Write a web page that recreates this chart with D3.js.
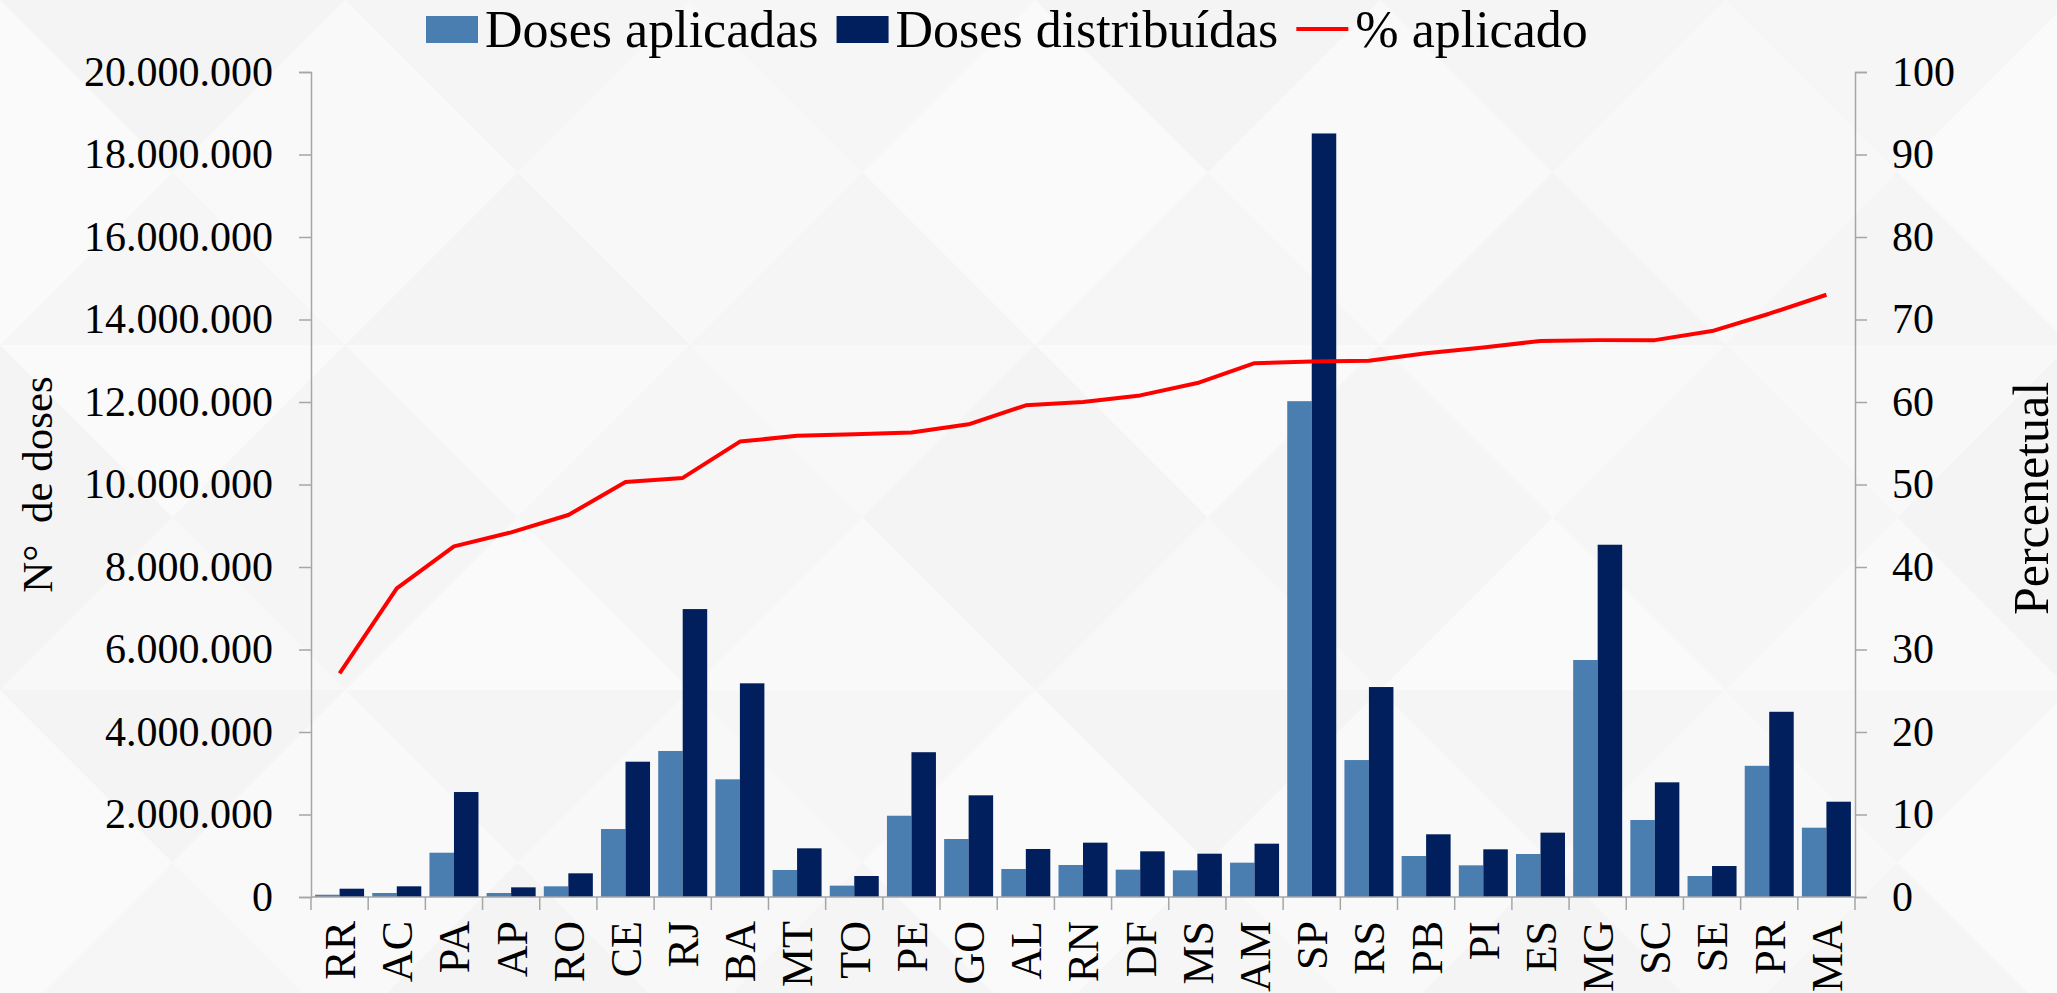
<!DOCTYPE html>
<html>
<head>
<meta charset="utf-8">
<script src="https://cdn.jsdelivr.net/npm/d3@7"></script>
<style>
  body { margin: 0; background: #f7f7f7; overflow: hidden; }
  text { font-family: "Liberation Serif", "Times New Roman", serif; fill: #000; }
  .axis path, .axis line { stroke: #a6a6a6; stroke-width: 1.5; }
</style>
</head>
<body>
<script>
// states, ordered by % applied
var estados = ['RR','AC','PA','AP','RO','CE','RJ','BA','MT','TO','PE','GO','AL','RN',
               'DF','MS','AM','SP','RS','PB','PI','ES','MG','SC','SE','PR','MA'];

var dosesAplicadas = [55000, 97000, 1074000, 97000, 259000, 1648000, 3540000, 2853000, 655000,
                      275000, 1970000, 1406000, 679000, 776000, 663000, 646000, 832000, 12020000,
                      3320000, 994000, 768000, 1042000, 5745000, 1867000, 509000, 3180000, 1680000];

var dosesDistribuidas = [201000, 259000, 2545000, 234000, 574000, 3280000, 6980000, 5180000, 1180000,
                         509000, 3510000, 2465000, 1164000, 1317000, 1107000, 1050000, 1293000, 18510000,
                         5090000, 1520000, 1156000, 1560000, 8540000, 2780000, 751000, 4490000, 2310000];

var percAplicado = [27.1, 37.4, 42.5, 44.2, 46.3, 50.3, 50.8, 55.2, 55.9, 56.1, 56.3, 57.3, 59.6, 60.0,
                    60.8, 62.3, 64.7, 64.9, 65.0, 65.9, 66.6, 67.4, 67.5, 67.5, 68.6, 70.7, 73.0];

var leftTicks = [0, 2000000, 4000000, 6000000, 8000000, 10000000, 12000000, 14000000, 16000000, 18000000, 20000000];
var rightTicks = [0, 10, 20, 30, 40, 50, 60, 70, 80, 90, 100];

var W = 2057, H = 993;
var plot = {left: 311, right: 1855, top: 72, bottom: 897};

var ptBR = d3.formatLocale({decimal: ",", thousands: ".", grouping: [3], currency: ["R$", ""]});
var fmt = ptBR.format(",d");

var svg = d3.select("body").append("svg")
    .attr("width", W)
    .attr("height", H);

// faint geometric background
var bg = svg.append("g");
bg.append("rect").attr("width", W).attr("height", H).attr("fill", "#f7f7f7");
var tile = 345;
var shades = ["#f4f4f4", "#f9f9f9", "#f6f6f6", "#fafafa", "#f5f5f5", "#f8f8f8"];
for (var i = 0; i * tile < W; i++) {
  for (var j = 0; j * tile < H; j++) {
    var x0 = i * tile, y0 = j * tile, cx = x0 + tile / 2, cy = y0 + tile / 2;
    var tris = [
      [[x0, y0], [x0 + tile, y0], [cx, cy]],
      [[x0 + tile, y0], [x0 + tile, y0 + tile], [cx, cy]],
      [[x0 + tile, y0 + tile], [x0, y0 + tile], [cx, cy]],
      [[x0, y0 + tile], [x0, y0], [cx, cy]]
    ];
    tris.forEach(function(t, k) {
      bg.append("polygon")
        .attr("points", t.map(function(p) { return p.join(","); }).join(" "))
        .attr("fill", shades[(i * 4 + j * 3 + k) % shades.length]);
    });
  }
}

var x0 = d3.scaleBand().domain(estados).range([plot.left, plot.right]).paddingInner(0).paddingOuter(0);
var x1 = d3.scaleBand().domain(["apl", "dist"]).range([0, x0.bandwidth()]).paddingInner(0).paddingOuter(0.167);
var y = d3.scaleLinear().domain([0, 20000000]).range([plot.bottom, plot.top]);
var y2 = d3.scaleLinear().domain([0, 100]).range([plot.bottom, plot.top]);

var g = svg.append("g");

// bars
g.selectAll(".apl")
  .data(estados)
  .enter().append("rect")
  .attr("class", "apl")
  .attr("x", function(d) { return x0(d) + x1("apl"); })
  .attr("y", function(d, i) { return y(dosesAplicadas[i]); })
  .attr("width", x1.bandwidth())
  .attr("height", function(d, i) { return y(0) - y(dosesAplicadas[i]); })
  .attr("fill", "#4a7eb0");

g.selectAll(".dist")
  .data(estados)
  .enter().append("rect")
  .attr("class", "dist")
  .attr("x", function(d) { return x0(d) + x1("dist"); })
  .attr("y", function(d, i) { return y(dosesDistribuidas[i]); })
  .attr("width", x1.bandwidth())
  .attr("height", function(d, i) { return y(0) - y(dosesDistribuidas[i]); })
  .attr("fill", "#001f5c");

// left axis
var yAxis = svg.append("g")
  .attr("class", "axis")
  .attr("transform", "translate(" + plot.left + ",0)")
  .call(d3.axisLeft(y).tickValues(leftTicks).tickFormat(fmt).tickSize(12).tickPadding(26));
yAxis.selectAll("text").style("font-size", "42px");

// right axis
var y2Axis = svg.append("g")
  .attr("class", "axis")
  .attr("transform", "translate(" + plot.right + ",0)")
  .call(d3.axisRight(y2).tickValues(rightTicks).tickSize(12).tickPadding(25));
y2Axis.selectAll("text").style("font-size", "42px");

// x axis: ticks between categories
var xAxis = svg.append("g").attr("class", "axis");
xAxis.append("line")
  .attr("x1", plot.left).attr("x2", plot.right)
  .attr("y1", plot.bottom).attr("y2", plot.bottom);
var bounds = estados.map(function(d) { return x0(d); }).concat([plot.right]);
xAxis.selectAll(".xt")
  .data(bounds)
  .enter().append("line")
  .attr("class", "xt")
  .attr("x1", function(d) { return d; }).attr("x2", function(d) { return d; })
  .attr("y1", plot.bottom).attr("y2", plot.bottom + 13);
xAxis.selectAll(".xl")
  .data(estados)
  .enter().append("text")
  .attr("class", "xl")
  .attr("transform", function(d) {
    return "translate(" + (x0(d) + x0.bandwidth() / 2) + "," + (plot.bottom + 24) + ") rotate(-90)";
  })
  .attr("text-anchor", "end")
  .attr("dy", "0.35em")
  .style("font-size", "44px")
  .text(function(d) { return d; });

// percent line
var line = d3.line()
  .x(function(d, i) { return x0(estados[i]) + x0.bandwidth() / 2; })
  .y(function(d) { return y2(d); });
g.append("path")
  .datum(percAplicado)
  .attr("d", line)
  .attr("fill", "none")
  .attr("stroke", "#ff0000")
  .attr("stroke-width", 4)
  .attr("stroke-linejoin", "round");

// axis titles
var midY = (plot.top + plot.bottom) / 2;
svg.append("text")
  .attr("transform", "translate(37," + midY + ") rotate(-90)")
  .attr("text-anchor", "middle")
  .attr("dy", "0.35em")
  .style("font-size", "43px")
  .style("white-space", "pre")
  .text("N°  de doses");
svg.append("text")
  .attr("transform", "translate(2030," + (midY + 14) + ") rotate(-90)")
  .attr("text-anchor", "middle")
  .attr("dy", "0.35em")
  .style("font-size", "50px")
  .text("Percenetual");

// legend
var legend = svg.append("g");
var lx = 426;
var items = [
  {label: "Doses aplicadas", type: "rect", color: "#4a7eb0"},
  {label: "Doses distribuídas", type: "rect", color: "#001f5c"},
  {label: "% aplicado", type: "line", color: "#ff0000"}
];
items.forEach(function(it) {
  if (it.type === "rect") {
    legend.append("rect").attr("x", lx).attr("y", 16).attr("width", 52).attr("height", 27).attr("fill", it.color);
  } else {
    legend.append("line").attr("x1", lx).attr("x2", lx + 52).attr("y1", 29).attr("y2", 29)
      .attr("stroke", it.color).attr("stroke-width", 4);
  }
  var t = legend.append("text")
    .attr("x", lx + 59)
    .attr("y", 47)
    .style("font-size", "52px")
    .text(it.label);
  lx = lx + 59 + t.node().getComputedTextLength() + 18;
});
</script>
</body>
</html>
